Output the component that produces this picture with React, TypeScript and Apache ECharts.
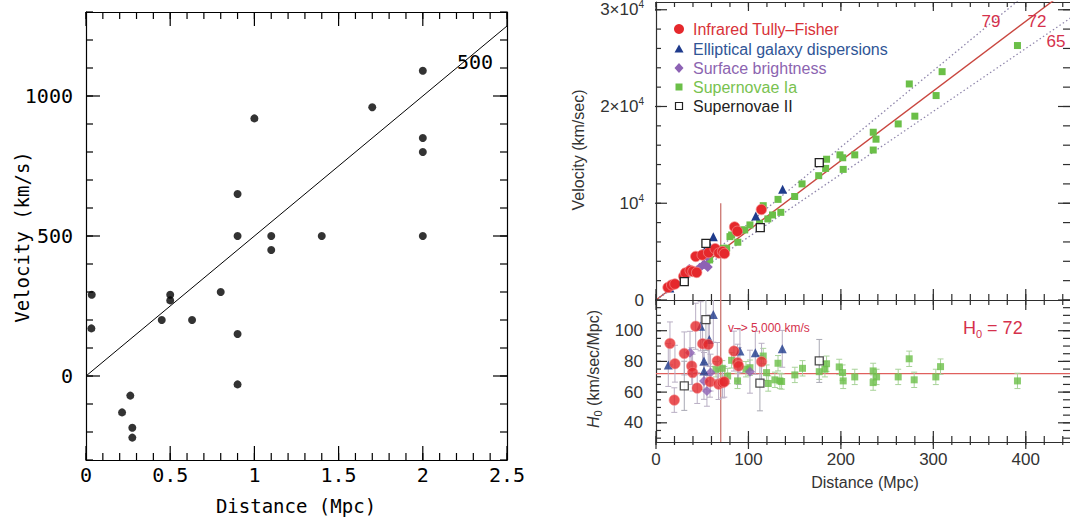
import React, { useEffect, useRef } from 'react';
import * as echarts from 'echarts';

// ===== Left panel: Hubble (1929) =====
const hubbleDistance = [0.032, 0.034, 0.214, 0.263, 0.275, 0.275, 0.45, 0.5, 0.5, 0.63, 0.8, 0.9, 0.9, 0.9, 0.9, 1.0, 1.1, 1.1, 1.4, 1.7, 2.0, 2.0, 2.0, 2.0];
const hubbleVelocity = [170, 290, -130, -70, -185, -220, 200, 290, 270, 200, 300, -30, 650, 150, 500, 920, 450, 500, 500, 960, 500, 850, 800, 1090];
const hubbleFitSlope = 500;
const hubbleFitDistances = [0, 2.5];
const hubbleXRange = [0, 2.5];
const hubbleYRange = [-300, 1300];
const hubbleXMajor = [0, 0.5, 1, 1.5, 2, 2.5];
const hubbleYLabels = [0, 500, 1000];

// ===== Right panel: velocity vs distance =====
const tullyFisherV = [[13, 1300], [17, 1550], [20.5, 1650], [30, 2450], [32, 2800], [37, 3050], [40, 2950], [44, 2850], [43, 4500], [50, 4650], [57, 4900], [64, 5300], [68, 4850], [72, 5000], [74, 4800], [85, 7550], [88, 7100], [114, 9350]];
const ellipticalV = [[15, 1250], [50, 4830], [53, 5150], [58, 5600], [62, 6550], [89, 7400], [108, 8690], [137, 11450]];
const surfaceV = [[36, 3200], [47, 3300], [52, 3700], [55, 4500], [56, 3400], [58, 5300]];
const snIaV = [[58, 4140], [65, 5000], [67.4, 5100], [72.8, 5350], [76.4, 5350], [80, 6550], [81.8, 6720], [88.5, 5970], [92.6, 7240], [96, 7240], [101.6, 7760], [112, 7930], [116, 9750], [121, 8380], [126, 8790], [132, 10400], [135, 9060], [150, 10700], [158, 12000], [176, 12850], [183.5, 13600], [184.5, 14550], [199, 15000], [202, 14700], [202.5, 13500], [215, 15000], [235, 15500], [235, 17340], [238, 16620], [262, 18200], [274, 22330], [280, 19000], [303, 21130], [309.5, 23600], [391, 26300]];
const snIIV = [[30.6, 1900], [54, 5860], [112.8, 7480], [176.6, 14200]];
const hubbleRates = [79, 72, 65];
const cutDistance = 70;
const cutVelocityTop = 10000;
const velocityRange = [0, 30800];
const distanceRange = [0, 450];
const velTickValues = [0, 10000, 20000, 30000];
const velTickMantissa = ['0', '10', '2×10', '3×10'];
const velTickExponent = ['', '4', '4', '4'];

// ===== Right panel: H0 vs distance  [distance, H0, error] =====
const tullyFisherH = [[15.1, 91.7, 14], [20.5, 78.5, 12], [19.8, 54.8, 8], [30.6, 85.2, 14], [38.6, 77, 12], [39.6, 72.7, 12], [42.9, 102.9, 15], [44.6, 62.6, 10], [50.4, 91.5, 14], [56.5, 91, 14], [58.4, 66.7, 10], [66.3, 80.3, 12], [67.7, 65.2, 10], [72, 66.2, 10], [73.9, 66.7, 10], [84.3, 86.7, 13], [88.2, 79.2, 12], [89.4, 77, 12], [114.2, 79.8, 12]];
const ellipticalH = [[13.3, 77.7, 14], [48.3, 102.9, 16], [51.9, 80.3, 14], [51.9, 73.8, 12], [57.7, 94.3, 16], [62, 110.5, 18], [90.8, 86.7, 14], [107.4, 85.6, 14], [136.6, 88.2, 12]];
const surfaceH = [[36.8, 85.6, 14], [51.9, 67.3, 12], [55.1, 60.8, 10], [59, 72.7, 12], [101.6, 73.3, 14]];
const snIaH = [[64.9, 74.9, 5], [71.7, 75.5, 5], [77.5, 70.5, 5], [81.8, 80.7, 5], [88.2, 67.3, 5], [97.3, 74.9, 5], [101.6, 75.9, 5], [116, 83.5, 5], [119.6, 72.7, 5], [121.4, 65.6, 5], [128.6, 68, 5], [132, 78.8, 5], [134, 67.3, 5], [135.9, 66.9, 5], [150.2, 71.2, 5], [158.5, 75.5, 5], [176.6, 73.3, 5], [182.7, 74.9, 5], [184.5, 78.5, 5], [198.2, 76.4, 5], [201.8, 72.7, 5], [202.5, 67.3, 5], [215, 69.9, 5], [234.9, 73.8, 5], [234.9, 66.2, 5], [238.6, 69.9, 5], [262, 69.9, 5], [273.9, 81.7, 5], [279.3, 68, 5], [302.7, 69.9, 5], [307.8, 76.6, 5], [391, 67.3, 5]];
const snIIH = [[30.6, 64.1, 16], [54, 107.2, 20], [112.4, 65.8, 18], [176.6, 80.3, 14]];
const h0Adopted = 72;
const h0Range = [27.5, 120];
const h0MajorTicks = [40, 60, 80, 100];
const h0MinorTicks = [30, 35, 40, 45, 50, 55, 60, 65, 70, 75, 80, 85, 90, 95, 100, 105, 110, 115];
const distanceLabels = [0, 100, 200, 300, 400];

const methodNames = ['Infrared Tully–Fisher', 'Elliptical galaxy dispersions', 'Surface brightness', 'Supernovae Ia', 'Supernovae II'];

const FONT_L = '"DejaVu Sans Mono", monospace';
const FONT_R = '"Liberation Sans", Arial, sans-serif';
const AX = '#2e2e2e';
const RED = '#e5282c';
const BLUE = '#1f3b8c';
const PURPLE = '#8d62b4';
const GREEN = '#6bbf48';
const LABEL_RED = '#d5314c';

const GRID_RECTS = [
  { left: 86, top: 12, width: 421, height: 448 },
  { left: 656, top: 2, width: 416, height: 298 },
  { left: 656, top: 300, width: 416, height: 142 },
];

const methodStyles = [
  { textColor: '#d83238', symbol: 'circle', size: 10.5, fill: RED, border: 'rgba(245,140,140,0.7)', bw: 1, errColor: '#b9afc4' },
  { textColor: '#2f5596', symbol: 'triangle', size: 9, fill: BLUE, border: BLUE, bw: 0, errColor: '#b9afc4' },
  { textColor: '#8c64b0', symbol: 'diamond', size: 10, fill: PURPLE, border: PURPLE, bw: 0, errColor: '#b9afc4' },
  { textColor: '#78c24f', symbol: 'rect', size: 7, fill: GREEN, border: GREEN, bw: 0, errColor: '#a9d39a' },
  { textColor: '#222', symbol: 'rect', size: 8, fill: '#ffffff', border: '#222', bw: 1.3, errColor: '#a9a9b4' },
];

function steps(min: number, max: number, step: number) {
  const out: number[] = [];
  const n = Math.round((max - min) / step);
  for (let i = 0; i <= n; i++) out.push(Math.round((min + i * step) * 1e6) / 1e6);
  return out;
}

const hubXMinor = steps(hubbleXRange[0], hubbleXRange[1], 0.1);
const hubYMinor = steps(hubbleYRange[0], hubbleYRange[1], 100);
const dMinor = steps(0, 440, 20);
const dMajor = steps(0, 400, 100);
const vMinor = steps(0, 30000, 2000);

// tick specs: side 'b' | 't' | 'l' | 'r', lengths in pixels (inside / outside)
const tickSpecs = [
  {
    grid: 0, xr: hubbleXRange, yr: hubbleYRange, color: '#000',
    items: [
      { side: 'b', values: hubXMinor, inL: 7, outL: 0 },
      { side: 'b', values: hubbleXMajor, inL: 14, outL: 0 },
      { side: 't', values: hubXMinor, inL: 7, outL: 0 },
      { side: 't', values: hubbleXMajor, inL: 14, outL: 0 },
      { side: 'l', values: hubYMinor, inL: 7, outL: 0 },
      { side: 'l', values: hubbleYLabels, inL: 14, outL: 0 },
      { side: 'r', values: hubYMinor, inL: 7, outL: 0 },
      { side: 'r', values: hubbleYLabels, inL: 14, outL: 0 },
    ],
  },
  {
    grid: 1, xr: distanceRange, yr: velocityRange, color: AX,
    items: [
      { side: 'b', values: dMinor, inL: 6, outL: 5 },
      { side: 'b', values: dMajor, inL: 11, outL: 10 },
      { side: 't', values: dMinor, inL: 5, outL: 0 },
      { side: 't', values: dMajor, inL: 9, outL: 0 },
      { side: 'l', values: vMinor, inL: 5, outL: 0 },
      { side: 'l', values: velTickValues, inL: 11, outL: 1 },
      { side: 'r', values: vMinor, inL: 9, outL: 0 },
      { side: 'r', values: velTickValues, inL: 14, outL: 0 },
    ],
  },
  {
    grid: 2, xr: distanceRange, yr: h0Range, color: AX,
    items: [
      { side: 'b', values: dMinor, inL: 6, outL: 3 },
      { side: 'b', values: dMajor, inL: 11, outL: 7 },
      { side: 'l', values: h0MinorTicks, inL: 5, outL: 0 },
      { side: 'l', values: h0MajorTicks, inL: 11, outL: 0 },
      { side: 'r', values: h0MinorTicks, inL: 9, outL: 0 },
      { side: 'r', values: h0MajorTicks, inL: 14, outL: 0 },
    ],
  },
];

// Each tick becomes a thin rect symbol centred on the tick's midpoint: [x, y, w, h]
function tickSymbolData(spec: any) {
  const r = GRID_RECTS[spec.grid];
  const ux = (spec.xr[1] - spec.xr[0]) / r.width;
  const uy = (spec.yr[1] - spec.yr[0]) / r.height;
  const T = 1.2;
  const out: number[][] = [];
  spec.items.forEach((it: any) => {
    const len = it.inL + it.outL;
    const mid = (it.inL - it.outL) / 2; // offset of the centre towards the inside, px
    it.values.forEach((v: number) => {
      if (it.side === 'b') out.push([v, spec.yr[0] + mid * uy, T, len]);
      else if (it.side === 't') out.push([v, spec.yr[1] - mid * uy, T, len]);
      else if (it.side === 'l') out.push([spec.xr[0] + mid * ux, v, len, T]);
      else out.push([spec.xr[1] - mid * ux, v, len, T]);
    });
  });
  return out;
}

function axis(o: any) {
  const a: any = {
    type: 'value',
    gridIndex: o.grid,
    position: o.pos,
    min: o.min,
    max: o.max,
    splitLine: { show: false },
    axisLine: { show: true, onZero: false, lineStyle: { color: o.color || AX, width: 1.2 } },
    axisTick: { show: false },
    axisLabel: o.label ? o.label : { show: false },
  };
  if (o.interval != null) a.interval = o.interval;
  return a;
}

function buildOption() {
  const xAxes: any[] = [];
  const yAxes: any[] = [];
  const addX = (o: any) => { xAxes.push(axis(o)); return xAxes.length - 1; };
  const addY = (o: any) => { yAxes.push(axis(o)); return yAxes.length - 1; };

  const hx = { grid: 0, min: hubbleXRange[0], max: hubbleXRange[1], color: '#000' };
  const hy = { grid: 0, min: hubbleYRange[0], max: hubbleYRange[1], color: '#000' };
  const lX = addX({
    ...hx, pos: 'bottom', interval: 0.5,
    label: { show: true, fontFamily: FONT_L, fontSize: 20, color: '#000', margin: 5, formatter: (v: number) => String(v) },
  });
  addX({ ...hx, pos: 'top', interval: 0.5 });
  const lY = addY({
    ...hy, pos: 'left',
    label: { show: true, customValues: hubbleYLabels, fontFamily: FONT_L, fontSize: 20, color: '#000', margin: 13, formatter: (v: number) => String(v) },
  });
  addY({ ...hy, pos: 'right' });

  const dx1 = { grid: 1, min: distanceRange[0], max: distanceRange[1] };
  const vy = { grid: 1, min: velocityRange[0], max: velocityRange[1] };
  const tX = addX({ ...dx1, pos: 'bottom', interval: 100 });
  addX({ ...dx1, pos: 'top', interval: 100 });
  const tY = addY({
    ...vy, pos: 'left',
    label: {
      show: true,
      customValues: velTickValues,
      margin: 12,
      formatter: (v: number) => {
        const i = velTickValues.indexOf(v);
        if (i < 0) return '';
        return `{a|${velTickMantissa[i]}}` + (velTickExponent[i] ? `{s|${velTickExponent[i]}}` : '');
      },
      rich: {
        a: { fontFamily: FONT_R, fontSize: 17, color: '#333', lineHeight: 20 },
        s: { fontFamily: FONT_R, fontSize: 10, color: '#333', lineHeight: 10, verticalAlign: 'top' },
      },
    },
  });
  addY({ ...vy, pos: 'right' });

  const dx2 = { grid: 2, min: distanceRange[0], max: distanceRange[1] };
  const hyy = { grid: 2, min: h0Range[0], max: h0Range[1] };
  const bX = addX({
    ...dx2, pos: 'bottom', interval: 100,
    label: { show: true, customValues: distanceLabels, fontFamily: FONT_R, fontSize: 17, color: '#333', margin: 9, formatter: (v: number) => String(v) },
  });
  const bY = addY({
    ...hyy, pos: 'left',
    label: { show: true, customValues: h0MajorTicks, fontFamily: FONT_R, fontSize: 17, color: '#333', margin: 13, formatter: (v: number) => String(v) },
  });
  addY({ ...hyy, pos: 'right' });

  const axisPairs = [[lX, lY], [tX, tY], [bX, bY]];
  const series: any[] = [];

  // Hubble
  series.push({
    type: 'line', xAxisIndex: lX, yAxisIndex: lY, z: 3, symbol: 'none',
    data: hubbleFitDistances.map((d) => [d, d * hubbleFitSlope]),
    lineStyle: { color: '#000', width: 1 },
  });
  series.push({
    type: 'scatter', xAxisIndex: lX, yAxisIndex: lY, z: 4, symbol: 'circle', symbolSize: 8,
    data: hubbleDistance.map((d, i) => [d, hubbleVelocity[i]]),
    itemStyle: { color: '#000' },
  });

  hubbleRates.forEach((h) => {
    const main = h === h0Adopted;
    series.push({
      type: 'line', xAxisIndex: tX, yAxisIndex: tY, z: 2, symbol: 'none', clip: true,
      data: distanceRange.map((d) => [d, d * h]),
      lineStyle: main ? { color: '#c9463f', width: 1.4 } : { color: '#8f86ab', width: 1.3, type: [1.5, 2.5] },
    });
  });
  series.push({
    type: 'line', xAxisIndex: tX, yAxisIndex: tY, z: 2, symbol: 'none',
    data: [[cutDistance, velocityRange[0]], [cutDistance, cutVelocityTop]],
    lineStyle: { color: '#cf7f7a', width: 1.4 },
  });

  const velSets = [tullyFisherV, ellipticalV, surfaceV, snIaV, snIIV];
  const hSets = [tullyFisherH, ellipticalH, surfaceH, snIaH, snIIH];
  const drawOrder = [3, 2, 1, 0, 4];
  drawOrder.forEach((k, j) => {
    const st = methodStyles[k];
    series.push({
      type: 'scatter', name: methodNames[k], xAxisIndex: tX, yAxisIndex: tY, z: 4 + j * 0.1,
      symbol: st.symbol, symbolSize: st.size, data: velSets[k],
      itemStyle: { color: st.fill, borderColor: st.border, borderWidth: st.bw, opacity: 1 },
    });
  });

  series.push({
    type: 'line', xAxisIndex: bX, yAxisIndex: bY, z: 2, symbol: 'none',
    data: distanceRange.map((d) => [d, h0Adopted]),
    lineStyle: { color: '#e0605e', width: 1.2 },
  });
  series.push({
    type: 'line', xAxisIndex: bX, yAxisIndex: bY, z: 2, symbol: 'none',
    data: [[cutDistance, h0Range[0]], [cutDistance, h0Range[1]]],
    lineStyle: { color: '#cf7f7a', width: 1.4 },
  });
  drawOrder.forEach((k) => {
    const st = methodStyles[k];
    series.push({
      type: 'custom', xAxisIndex: bX, yAxisIndex: bY, z: 3, clip: true,
      data: hSets[k],
      renderItem: (params: any, api: any) => {
        const x = api.value(0);
        const y = api.value(1);
        const e = api.value(2);
        const top = api.coord([x, y + e]);
        const bot = api.coord([x, y - e]);
        const w = 3;
        const ls = { stroke: st.errColor, lineWidth: 1 };
        return {
          type: 'group',
          children: [
            { type: 'line', shape: { x1: top[0], y1: top[1], x2: bot[0], y2: bot[1] }, style: ls },
            { type: 'line', shape: { x1: top[0] - w, y1: top[1], x2: top[0] + w, y2: top[1] }, style: ls },
            { type: 'line', shape: { x1: bot[0] - w, y1: bot[1], x2: bot[0] + w, y2: bot[1] }, style: ls },
          ],
        };
      },
    });
  });
  drawOrder.forEach((k, j) => {
    const st = methodStyles[k];
    series.push({
      type: 'scatter', name: methodNames[k], xAxisIndex: bX, yAxisIndex: bY, z: 4 + j * 0.1,
      symbol: st.symbol, symbolSize: st.size, data: hSets[k].map((p) => [p[0], p[1]]),
      itemStyle: { color: st.fill, borderColor: st.border, borderWidth: st.bw },
    });
  });

  // ticks: thin rect symbols of a scatter series per panel (placed through the axes)
  tickSpecs.forEach((spec) => {
    series.push({
      type: 'scatter', xAxisIndex: axisPairs[spec.grid][0], yAxisIndex: axisPairs[spec.grid][1],
      z: 5, symbol: 'rect',
      symbolSize: (val: number[]) => [val[2], val[3]],
      data: tickSymbolData(spec),
      itemStyle: { color: spec.color, opacity: 1 },
      emphasis: { disabled: true },
    });
  });

  const legendRowsY = [29, 49, 68, 87, 106];
  const legendMarkerX = 679;
  const g: any[] = [];
  const text = (x: number, y: number, t: string, font: string, size: number, color: string, extra: any = {}) => ({
    type: 'text', x, y, rotation: extra.rotation || 0, z: 10,
    style: { text: t, fontFamily: font, fontSize: size, fill: color, align: extra.align || 'center', verticalAlign: 'middle', ...(extra.style || {}) },
  });
  g.push(text(22, 237, 'Velocity (km/s)', FONT_L, 19, '#000', { rotation: Math.PI / 2 }));
  g.push(text(296, 506, 'Distance (Mpc)', FONT_L, 19, '#000'));
  g.push(text(475, 62, '500', FONT_L, 20, '#000'));

  g.push(text(578, 150, 'Velocity (km/sec)', FONT_R, 16, '#333', { rotation: Math.PI / 2 }));
  g.push(text(593, 369, '{i|H}{s|0} (km/sec/Mpc)', FONT_R, 16, '#333', {
    rotation: Math.PI / 2,
    style: {
      lineHeight: 20,
      rich: {
        i: { fontFamily: FONT_R, fontSize: 16, fontStyle: 'italic', fill: '#333', lineHeight: 20 },
        s: { fontFamily: FONT_R, fontSize: 11, fill: '#333', lineHeight: 11, verticalAlign: 'bottom' },
      },
    },
  }));
  g.push(text(865, 482, 'Distance (Mpc)', FONT_R, 16, '#333'));
  g.push(text(991, 21, '79', FONT_R, 17, LABEL_RED));
  g.push(text(1037, 21, '72', FONT_R, 17, LABEL_RED));
  g.push(text(1056, 41, '65', FONT_R, 17, LABEL_RED));
  g.push(text(728, 328, 'v–> 5,000 km/s', FONT_R, 12, LABEL_RED, { align: 'left' }));
  g.push(text(963, 328, '{a|H}{s|0}{a| = 72}', FONT_R, 18, LABEL_RED, {
    align: 'left',
    style: {
      lineHeight: 22,
      rich: {
        a: { fontFamily: FONT_R, fontSize: 18, fill: LABEL_RED, lineHeight: 22 },
        s: { fontFamily: FONT_R, fontSize: 11, fill: LABEL_RED, lineHeight: 11, verticalAlign: 'bottom' },
      },
    },
  }));

  const mx = legendMarkerX;
  g.push({ type: 'circle', z: 10, shape: { cx: mx, cy: legendRowsY[0], r: 5 }, style: { fill: RED } });
  g.push({ type: 'polygon', z: 10, shape: { points: [[mx, legendRowsY[1] - 4.5], [mx + 4.5, legendRowsY[1] + 3.5], [mx - 4.5, legendRowsY[1] + 3.5]] }, style: { fill: BLUE } });
  g.push({ type: 'polygon', z: 10, shape: { points: [[mx, legendRowsY[2] - 5], [mx + 4.5, legendRowsY[2]], [mx, legendRowsY[2] + 5], [mx - 4.5, legendRowsY[2]]] }, style: { fill: PURPLE } });
  g.push({ type: 'rect', z: 10, shape: { x: mx - 3.5, y: legendRowsY[3] - 3.5, width: 7, height: 7 }, style: { fill: GREEN } });
  g.push({ type: 'rect', z: 10, shape: { x: mx - 3.5, y: legendRowsY[4] - 3.5, width: 7, height: 7 }, style: { fill: '#fff', stroke: '#222', lineWidth: 1.2 } });
  methodNames.forEach((n, i) => {
    g.push(text(693, legendRowsY[i], n, FONT_R, 16, methodStyles[i].textColor, { align: 'left' }));
  });

  return {
    animation: false,
    backgroundColor: '#ffffff',
    grid: GRID_RECTS.map((r) => ({ ...r, containLabel: false, outerBoundsMode: 'none' })),
    xAxis: xAxes,
    yAxis: yAxes,
    series,
    graphic: g,
  };
}

export default function App() {
  const ref = useRef<HTMLDivElement>(null);
  useEffect(() => {
    if (!ref.current) return;
    const chart = echarts.init(ref.current, undefined, { renderer: 'svg' });
    chart.setOption(buildOption() as any);
    return () => chart.dispose();
  }, []);
  return (
    <div
      ref={ref}
      style={{ position: 'fixed', left: 0, top: 0, width: 1070, height: 531, background: '#fff' }}
    />
  );
}
